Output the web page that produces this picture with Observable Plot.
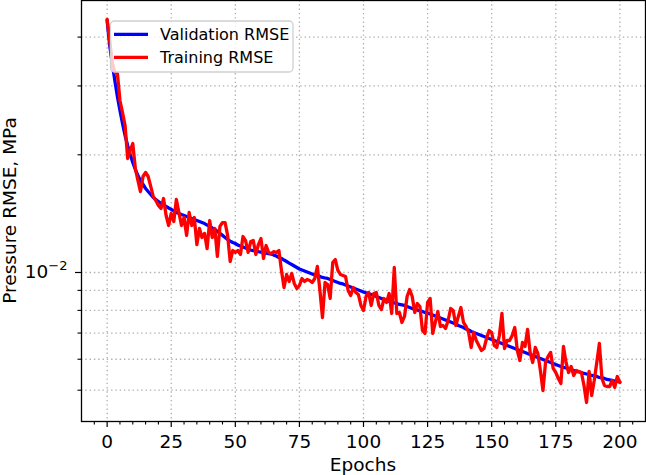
<!DOCTYPE html>
<html>
<head>
<meta charset="utf-8">
<script src="https://cdn.jsdelivr.net/npm/d3@7"></script>
<script src="https://cdn.jsdelivr.net/npm/@observablehq/plot@0.6"></script>
<style>
  html, body { margin: 0; padding: 0; background: white; }
  #chart svg { display: block; }
</style>
</head>
<body>
<div id="chart"></div>
<script>
// Training history of the pressure model: RMSE (MPa) per epoch.
const epochs = d3.range(0, 201);

const validationRmse = [
  0.04411, 0.03807, 0.03424, 0.03098, 0.02820, 0.02596, 0.02405, 0.02241, 0.02113, 0.02003,
  0.01911, 0.01834, 0.01770, 0.01719, 0.01679, 0.01640, 0.01611, 0.01583, 0.01555, 0.01537,
  0.01519, 0.01501, 0.01488, 0.01475, 0.01462, 0.01450, 0.01437, 0.01424, 0.01416, 0.01407,
  0.01399, 0.01390, 0.01382, 0.01374, 0.01366, 0.01358, 0.01350, 0.01342, 0.01334, 0.01322,
  0.01312, 0.01300, 0.01289, 0.01273, 0.01259, 0.01244, 0.01229, 0.01214, 0.01203, 0.01193,
  0.01186, 0.01175, 0.01169, 0.01162, 0.01155, 0.01148, 0.01141, 0.01138, 0.01135, 0.01131,
  0.01128, 0.01125, 0.01121, 0.01118, 0.01115, 0.01108, 0.01102, 0.01092, 0.01086, 0.01076,
  0.01067, 0.01057, 0.01048, 0.01039, 0.01030, 0.01021, 0.01015, 0.01009, 0.01003, 0.009972,
  0.009914, 0.009855, 0.009796, 0.009767, 0.009710, 0.009681, 0.009653, 0.009596, 0.009540, 0.009484,
  0.009428, 0.009373, 0.009345, 0.009291, 0.009235, 0.009181, 0.009127, 0.009074, 0.009021, 0.008968,
  0.008915, 0.008863, 0.008837, 0.008785, 0.008733, 0.008682, 0.008631, 0.008580, 0.008530, 0.008480,
  0.008430, 0.008405, 0.008356, 0.008331, 0.008283, 0.008258, 0.008234, 0.008186, 0.008137, 0.008090,
  0.008066, 0.008019, 0.007971, 0.007948, 0.007901, 0.007855, 0.007832, 0.007786, 0.007740, 0.007695,
  0.007650, 0.007605, 0.007560, 0.007516, 0.007472, 0.007428, 0.007384, 0.007319, 0.007276, 0.007234,
  0.007170, 0.007128, 0.007065, 0.007024, 0.006983, 0.006942, 0.006901, 0.006860, 0.006819, 0.006779,
  0.006740, 0.006700, 0.006661, 0.006622, 0.006583, 0.006544, 0.006506, 0.006468, 0.006430, 0.006392,
  0.006354, 0.006317, 0.006280, 0.006243, 0.006206, 0.006170, 0.006134, 0.006098, 0.006062, 0.006027,
  0.005991, 0.005956, 0.005921, 0.005886, 0.005852, 0.005817, 0.005783, 0.005749, 0.005715, 0.005698,
  0.005665, 0.005648, 0.005615, 0.005582, 0.005566, 0.005549, 0.005517, 0.005500, 0.005484, 0.005452,
  0.005436, 0.005420, 0.005388, 0.005373, 0.005357, 0.005325, 0.005310, 0.005294, 0.005278, 0.005263, 0.005247
];

const trainingRmse = [
  0.04437, 0.03921, 0.03444, 0.03248, 0.03228, 0.02754, 0.02566, 0.02377, 0.01957, 0.02051,
  0.02138, 0.01845, 0.01719, 0.01611, 0.01760, 0.01802, 0.01760, 0.01660, 0.01564, 0.01528,
  0.01484, 0.01458, 0.01546, 0.01399, 0.01319, 0.01416, 0.01350, 0.01537, 0.01424, 0.01319,
  0.01382, 0.01244, 0.01424, 0.01319, 0.01382, 0.01179, 0.01296, 0.01229, 0.01259, 0.01151,
  0.01358, 0.01229, 0.01296, 0.01099, 0.01312, 0.01342, 0.01342, 0.01244, 0.01067, 0.01138,
  0.01125, 0.01138, 0.01112, 0.01236, 0.01207, 0.01125, 0.01200, 0.01207, 0.01112, 0.01179,
  0.01221, 0.01086, 0.01172, 0.01125, 0.01118, 0.01131, 0.01125, 0.01138, 0.01012, 0.009154,
  0.009884, 0.009484, 0.009943, 0.009373, 0.009101, 0.009263, 0.009653, 0.009484, 0.009596, 0.009540,
  0.009428, 0.009653, 0.01036, 0.008994, 0.007672, 0.009428, 0.009318, 0.008580, 0.01060, 0.01079,
  0.01012, 0.009884, 0.009826, 0.009767, 0.008994, 0.008733, 0.009154, 0.008889, 0.008785, 0.008234,
  0.007995, 0.008682, 0.008889, 0.008234, 0.008837, 0.008889, 0.008234, 0.008042, 0.008580, 0.008381,
  0.008837, 0.007855, 0.01030, 0.007855, 0.007901, 0.007450, 0.007718, 0.008682, 0.009047, 0.008682,
  0.007901, 0.008331, 0.008186, 0.007107, 0.006983, 0.008381, 0.008580, 0.006983, 0.007450, 0.007948,
  0.007276, 0.007319, 0.007191, 0.007538, 0.008090, 0.007995, 0.007319, 0.007718, 0.008137, 0.007450,
  0.007276, 0.007024, 0.006430, 0.007024, 0.006700, 0.006506, 0.006317, 0.006392, 0.006779, 0.007107,
  0.007024, 0.006506, 0.006430, 0.006901, 0.007855, 0.006392, 0.006700, 0.006700, 0.006901, 0.007234,
  0.006317, 0.005956, 0.006622, 0.006468, 0.007149, 0.006243, 0.005886, 0.006430, 0.006206, 0.005615,
  0.004991, 0.005886, 0.006098, 0.006243, 0.005682, 0.005549, 0.005357, 0.005201, 0.006468, 0.005886,
  0.005549, 0.005749, 0.005452, 0.005615, 0.005582, 0.005549, 0.005140, 0.004651, 0.005582, 0.004846,
  0.005294, 0.005886, 0.006583, 0.005357, 0.005140, 0.005110, 0.005110, 0.005294, 0.005080, 0.005420, 0.005232
];

const seriesNames = ["Validation RMSE", "Training RMSE"];
const seriesColors = ["blue", "red"];

const xMajorTicks = [0, 25, 50, 75, 100, 125, 150, 175, 200];
const xMinorTicks = d3.range(-5, 206, 5).filter(d => d % 25 !== 0);
const yMajorTicks = [0.01];
const yMinorTicks = [0.005, 0.006, 0.007, 0.008, 0.009, 0.02, 0.03, 0.04];
// Major y tick labels as base and exponent, e.g. 10^-2.
const yTickBases = ["10"];
const yTickExponents = ["−2"];

const rows = epochs.map((epoch, i) => ({
  epoch,
  validation: validationRmse[i],
  training: trainingRmse[i]
}));

const W = 646, H = 475;
const M = {left: 81, right: 1, top: 0, bottom: 54};
const axisFont = "18.5px";
const legendFont = "16px";
const gridStyle = {stroke: "#b0b0b0", strokeWidth: 1.3, strokeDasharray: "1.4,2.9"};

const chart = Plot.plot({
  width: W,
  height: H,
  marginLeft: M.left,
  marginRight: M.right,
  marginTop: M.top,
  marginBottom: M.bottom,
  style: {
    fontFamily: "'DejaVu Sans', sans-serif",
    fontSize: axisFont,
    color: "black",
    background: "white",
    overflow: "visible"
  },
  x: {domain: [-10, 210], label: null},
  y: {type: "log", domain: [0.004158, 0.04962], label: null},
  marks: [
    Plot.ruleX(xMajorTicks, gridStyle),
    Plot.ruleY([...yMajorTicks, ...yMinorTicks], gridStyle),
    Plot.line(rows, {x: "epoch", y: "validation", stroke: seriesColors[0], strokeWidth: 3.3, strokeLinejoin: "round"}),
    Plot.line(rows, {x: "epoch", y: "training", stroke: seriesColors[1], strokeWidth: 3.3, strokeLinejoin: "round"}),
    Plot.axisX({ticks: xMajorTicks, tickSize: 6, tickPadding: 7, tickFormat: d => String(d), label: null, strokeWidth: 1.2}),
    Plot.axisX({ticks: xMinorTicks, tickSize: 3.5, tickFormat: () => "", label: null, strokeWidth: 1.1}),
    Plot.axisY({ticks: yMajorTicks, tickSize: 6, tickPadding: 8,
                tickFormat: d => yTickBases[yMajorTicks.indexOf(d)] + "^" + yTickExponents[yMajorTicks.indexOf(d)],
                label: null, strokeWidth: 1.2, className: "y-major"}),
    Plot.axisY({ticks: yMinorTicks, tickSize: 3.5, tickFormat: () => "", label: null, strokeWidth: 1.1}),
    Plot.frame({stroke: "black", strokeWidth: 1.3})
  ]
});

document.getElementById("chart").appendChild(chart);

const svg = d3.select(chart);

// Typeset the power-of-ten labels with a raised, smaller exponent.
svg.selectAll("text").each(function () {
  const t = d3.select(this);
  const s = t.text();
  if (!/^\d+\^/.test(s)) return;
  const [base, exp] = s.split("^");
  t.text(null);
  t.append("tspan").text(base);
  t.append("tspan").attr("dy", "-8").style("font-size", "13px").text(exp);
});

// Axis titles and the legend box, drawn on top of the plot.
const plotMidX = (M.left + (W - M.right)) / 2;
const plotMidY = (M.top + (H - M.bottom)) / 2;

svg.append("text")
  .attr("x", plotMidX).attr("y", 470.5)
  .attr("text-anchor", "middle")
  .attr("fill", "black")
  .style("font-size", axisFont)
  .text("Epochs");

svg.append("text")
  .attr("transform", `translate(15.5,${plotMidY}) rotate(-90)`)
  .attr("text-anchor", "middle")
  .attr("fill", "black")
  .style("font-size", axisFont)
  .text("Pressure RMSE, MPa");

const legend = svg.append("g");
legend.append("rect")
  .attr("x", 110.5).attr("y", 21)
  .attr("width", 182.5).attr("height", 51)
  .attr("rx", 4)
  .attr("fill", "white").attr("fill-opacity", 0.8)
  .attr("stroke", "#d0d0d0").attr("stroke-width", 1.3);

seriesNames.forEach((name, i) => {
  const cy = 34.3 + i * 23;
  legend.append("line")
    .attr("x1", 114).attr("x2", 148)
    .attr("y1", cy).attr("y2", cy)
    .attr("stroke", seriesColors[i]).attr("stroke-width", 3.3);
  legend.append("text")
    .attr("x", 160).attr("y", cy + 6)
    .attr("text-anchor", "start")
    .attr("fill", "black")
    .style("font-size", legendFont)
    .text(name);
});
</script>
</body>
</html>
